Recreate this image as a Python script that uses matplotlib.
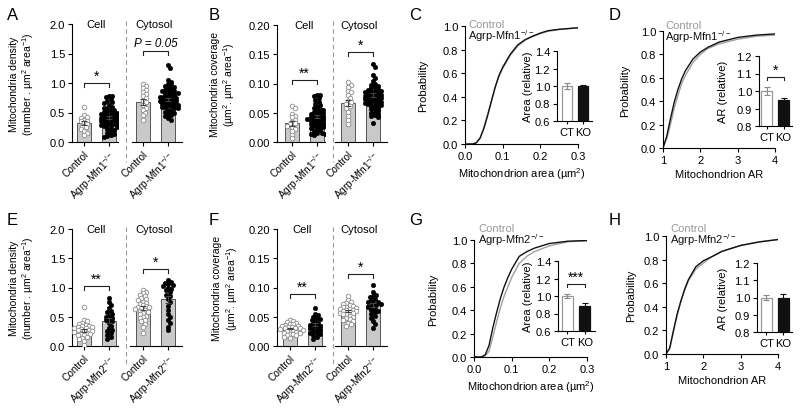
import numpy as np
import matplotlib
matplotlib.use("Agg")
import matplotlib.pyplot as plt
from matplotlib.lines import Line2D

plt.rcParams['font.family'] = ['Liberation Sans', 'DejaVu Sans']
plt.rcParams['mathtext.fontset'] = 'custom'
plt.rcParams['mathtext.rm'] = 'Liberation Sans'
plt.rcParams['mathtext.it'] = 'Liberation Sans:italic'
plt.rcParams['axes.linewidth'] = 0.8
plt.rcParams['xtick.major.width'] = 0.8
plt.rcParams['ytick.major.width'] = 0.8
plt.rcParams['xtick.major.size'] = 3
plt.rcParams['ytick.major.size'] = 3

W, H = 800, 410

# ---------------- data ----------------
groups = ['Control', 'Agrp-Mfn1$^{-/-}$']
groups2 = ['Control', 'Agrp-Mfn2$^{-/-}$']

# A: mitochondria density (Mfn1)
a_means = [0.32, 0.42, 0.68, 0.72]
a_cell_ctl = [0.60, 0.45, 0.43, 0.41, 0.38, 0.36, 0.35, 0.32, 0.30, 0.27, 0.25, 0.22, 0.18, 0.15, 0.12]
a_cell_ko = [0.78, 0.78, 0.76, 0.73, 0.70, 0.68, 0.66, 0.63, 0.60, 0.58, 0.57, 0.55, 0.54, 0.52, 0.51,
             0.50, 0.49, 0.48, 0.47, 0.46, 0.45, 0.44, 0.43, 0.42, 0.41, 0.40, 0.40, 0.39, 0.38, 0.37,
             0.36, 0.35, 0.34, 0.33, 0.32, 0.31, 0.30, 0.29, 0.28, 0.27, 0.26, 0.24, 0.22, 0.20, 0.18,
             0.16, 0.14, 0.12, 0.10, 0.09]
a_cyto_ctl = [0.98, 0.95, 0.92, 0.88, 0.85, 0.82, 0.78, 0.75, 0.70, 0.68, 0.62, 0.58, 0.55, 0.50, 0.45, 0.38]
a_cyto_ko = [1.30, 1.25, 1.05, 1.02, 0.98, 0.96, 0.95, 0.93, 0.91, 0.90, 0.88, 0.87, 0.86, 0.85, 0.84,
             0.83, 0.82, 0.80, 0.79, 0.78, 0.77, 0.76, 0.75, 0.74, 0.73, 0.72, 0.71, 0.70, 0.69, 0.68,
             0.67, 0.66, 0.65, 0.64, 0.63, 0.62, 0.61, 0.60, 0.59, 0.58, 0.57, 0.55, 0.53, 0.51, 0.50,
             0.48, 0.46, 0.44, 0.41, 0.37]

# B: mitochondria coverage (Mfn1)
b_means = [0.032, 0.044, 0.066, 0.080]
b_cell_ctl = [0.062, 0.058, 0.048, 0.045, 0.042, 0.038, 0.035, 0.032, 0.030, 0.028, 0.025, 0.022, 0.018, 0.012, 0.006]
b_cell_ko = [0.080, 0.080, 0.078, 0.075, 0.072, 0.068, 0.065, 0.063, 0.060, 0.058, 0.056, 0.055, 0.053, 0.052, 0.050,
             0.049, 0.048, 0.047, 0.046, 0.045, 0.044, 0.043, 0.042, 0.041, 0.040, 0.040, 0.039, 0.038, 0.037, 0.036,
             0.035, 0.034, 0.033, 0.032, 0.031, 0.030, 0.029, 0.028, 0.027, 0.026, 0.025, 0.024, 0.022, 0.020, 0.018,
             0.016, 0.015, 0.014, 0.013, 0.012]
b_cyto_ctl = [0.102, 0.098, 0.094, 0.088, 0.085, 0.080, 0.075, 0.070, 0.068, 0.065, 0.062, 0.058, 0.052, 0.045, 0.038, 0.030]
b_cyto_ko = [0.133, 0.128, 0.115, 0.110, 0.105, 0.100, 0.098, 0.096, 0.094, 0.092, 0.090, 0.089, 0.088, 0.087, 0.086,
             0.085, 0.084, 0.083, 0.082, 0.081, 0.080, 0.079, 0.078, 0.077, 0.076, 0.075, 0.074, 0.073, 0.072, 0.071,
             0.070, 0.069, 0.068, 0.067, 0.066, 0.065, 0.064, 0.063, 0.062, 0.060, 0.058, 0.056, 0.054, 0.052, 0.050,
             0.048, 0.046, 0.044, 0.042, 0.032]

# E: mitochondria density (Mfn2)
e_means = [0.27, 0.43, 0.65, 0.80]
e_cell_ctl = [0.66, 0.45, 0.42, 0.40, 0.38, 0.36, 0.35, 0.34, 0.33, 0.32, 0.31, 0.30, 0.29, 0.28, 0.27,
              0.26, 0.25, 0.24, 0.22, 0.21, 0.20, 0.19, 0.18, 0.16, 0.14, 0.12, 0.08, 0.02]
e_cell_ko = [0.82, 0.75, 0.70, 0.65, 0.60, 0.58, 0.55, 0.52, 0.50, 0.48, 0.46, 0.44, 0.42, 0.40, 0.35,
             0.30, 0.28, 0.25, 0.22, 0.18, 0.15, 0.12]
e_cyto_ctl = [0.96, 0.93, 0.90, 0.88, 0.85, 0.82, 0.80, 0.78, 0.76, 0.74, 0.72, 0.70, 0.68, 0.67, 0.66,
              0.65, 0.64, 0.62, 0.60, 0.58, 0.56, 0.54, 0.52, 0.50, 0.48, 0.45, 0.42, 0.38, 0.32, 0.22]
e_cyto_ko = [1.12, 1.10, 1.08, 1.06, 1.05, 1.03, 1.00, 0.98, 0.95, 0.92, 0.88, 0.85, 0.80, 0.75, 0.68,
             0.62, 0.55, 0.50, 0.45, 0.40, 0.33, 0.27]

# F: mitochondria coverage (Mfn2)
f_means = [0.030, 0.037, 0.060, 0.070]
f_cell_ctl = [0.045, 0.043, 0.041, 0.040, 0.038, 0.037, 0.036, 0.035, 0.034, 0.033, 0.032, 0.031, 0.030, 0.030,
              0.029, 0.028, 0.027, 0.026, 0.025, 0.024, 0.023, 0.022, 0.021, 0.020, 0.019, 0.018, 0.016, 0.013]
f_cell_ko = [0.065, 0.055, 0.053, 0.050, 0.048, 0.046, 0.045, 0.043, 0.040, 0.038, 0.036, 0.035, 0.034, 0.032,
             0.030, 0.028, 0.027, 0.025, 0.023, 0.022, 0.020, 0.018, 0.015, 0.012]
f_cyto_ctl = [0.085, 0.078, 0.075, 0.073, 0.072, 0.070, 0.068, 0.067, 0.066, 0.065, 0.064, 0.063, 0.062, 0.061,
              0.060, 0.059, 0.058, 0.057, 0.056, 0.055, 0.054, 0.052, 0.050, 0.048, 0.046, 0.045, 0.043, 0.040,
              0.038, 0.035]
f_cyto_ko = [0.105, 0.092, 0.088, 0.085, 0.083, 0.080, 0.078, 0.076, 0.075, 0.073, 0.072, 0.070, 0.068, 0.066,
             0.064, 0.062, 0.060, 0.058, 0.055, 0.052, 0.048, 0.043, 0.038, 0.030]

# C: cumulative mitochondrion area (Mfn1)
c_x = [0.0, 0.02, 0.03, 0.04, 0.05, 0.06, 0.07, 0.08, 0.09, 0.10, 0.12, 0.14, 0.16, 0.18, 0.20, 0.22, 0.25, 0.30]
c_ctl = [0.0, 0.0, 0.01, 0.05, 0.14, 0.25, 0.37, 0.48, 0.57, 0.64, 0.75, 0.83, 0.88, 0.91, 0.935, 0.955, 0.97, 0.985]
c_ko = [0.0, 0.0, 0.01, 0.05, 0.13, 0.24, 0.36, 0.48, 0.58, 0.65, 0.76, 0.84, 0.885, 0.915, 0.94, 0.96, 0.972, 0.985]
c_inset = [1.0, 1.0]
c_inset_err = [0.03, 0.01]

# D: cumulative aspect ratio (Mfn1)
d_x = [1.0, 1.1, 1.2, 1.3, 1.4, 1.5, 1.6, 1.8, 2.0, 2.2, 2.5, 3.0, 3.5, 4.0]
d_ctl = [0.0, 0.08, 0.2, 0.34, 0.45, 0.55, 0.62, 0.73, 0.80, 0.85, 0.89, 0.93, 0.955, 0.965]
d_ko = [0.0, 0.1, 0.25, 0.39, 0.50, 0.59, 0.66, 0.76, 0.82, 0.86, 0.905, 0.945, 0.965, 0.975]
d_inset = [1.0, 0.95]
d_inset_err = [0.022, 0.01]

# G: cumulative mitochondrion area (Mfn2)
g_x = [0.0, 0.02, 0.03, 0.04, 0.05, 0.06, 0.07, 0.08, 0.09, 0.10, 0.12, 0.14, 0.16, 0.20, 0.25, 0.30]
g_ctl = [0.0, 0.0, 0.01, 0.05, 0.17, 0.30, 0.42, 0.52, 0.60, 0.68, 0.80, 0.86, 0.90, 0.95, 0.985, 0.995]
g_ko = [0.0, 0.0, 0.02, 0.10, 0.25, 0.38, 0.50, 0.60, 0.68, 0.75, 0.86, 0.90, 0.93, 0.97, 0.99, 0.995]
g_inset = [1.0, 0.89]
g_inset_err = [0.02, 0.03]

# H: cumulative aspect ratio (Mfn2)
h_x = [1.0, 1.1, 1.2, 1.3, 1.4, 1.5, 1.6, 1.8, 2.0, 2.2, 2.5, 3.0, 3.5, 4.0]
h_ctl = [0.0, 0.05, 0.19, 0.33, 0.45, 0.54, 0.62, 0.72, 0.77, 0.82, 0.87, 0.92, 0.95, 0.97]
h_ko = [0.0, 0.05, 0.2, 0.34, 0.45, 0.55, 0.63, 0.74, 0.79, 0.82, 0.87, 0.92, 0.95, 0.97]
h_inset = [1.0, 1.0]
h_inset_err = [0.015, 0.02]

GRAY_BAR = '#c9c9c9'
EDGE = '#555555'
CTL_LINE = '#a0a0a0'
FS = 8

fig = plt.figure(figsize=(8, 4.1), dpi=100)


def add_px(l, t, r, b):
    return fig.add_axes([l / W, 1 - b / H, (r - l) / W, (b - t) / H])


def style(ax):
    for s in ['top', 'right']:
        ax.spines[s].set_visible(False)
    ax.tick_params(labelsize=FS, direction='out', pad=2)


def swarm(vals, px_y, px_x, diam=3.2):
    vals = np.asarray(vals, float)
    order = np.argsort(-vals)
    placed = []
    off = np.zeros(len(vals))
    step = diam * 0.5
    for i in order:
        y = vals[i] * px_y
        for k in range(60):
            cand = ((k + 1) // 2) * step * (1 if k % 2 else -1)
            if all((cand - px) ** 2 + (y - py) ** 2 >= diam ** 2 for px, py in placed):
                break
        placed.append((cand, y))
        off[i] = cand / px_x
    return off


def bracket(ax, x0, x1, y, d, txt, fs=10, dy=0.0, italic=False):
    ax.plot([x0, x0, x1, x1], [y - d, y, y, y - d], color='#222222', lw=0.8, clip_on=False)
    ax.text((x0 + x1) / 2, y + dy, txt, ha='center', va='bottom', fontsize=fs,
            style='italic' if italic else 'normal', clip_on=False)


def bar_panel(cell_rect, cyto_rect, cell_xl, cyto_xl, ylim, yticks, fmt, means, pts,
              ylabel, labels, sigs, sep_rect, px_y, ylab_x):
    ax1 = add_px(*cell_rect)
    ax2 = add_px(*cyto_rect)
    for j, ax in enumerate([ax1, ax2]):
        style(ax)
        m = means[2 * j:2 * j + 2]
        p = pts[2 * j:2 * j + 2]
        sem = [np.std(v) / np.sqrt(len(v)) for v in p]
        ax.bar([0, 1], m, width=0.56, color=GRAY_BAR, edgecolor=EDGE, linewidth=0.7, zorder=1)
        for k in range(2):
            off = swarm(p[k], px_y, 25)
            if k == 0:
                ax.scatter(k + off, p[k], s=11, facecolor='white', edgecolor='#8a8a8a', linewidth=0.6, zorder=3)
            else:
                ax.scatter(k + off, p[k], s=11, facecolor='black', edgecolor='black', linewidth=0.3, zorder=3)
            ax.errorbar(k, m[k], yerr=sem[k], color='#444444', capsize=2, lw=0.8, capthick=0.8, zorder=4)
        ax.set_ylim(*ylim)
        ax.set_xticks([0, 1])
        ax.set_xticklabels(labels, rotation=45, ha='right', va='top', rotation_mode='anchor', fontsize=7.2)
        ax.tick_params(axis='x', pad=2)
        ax.set_xlim(*(cell_xl if j == 0 else cyto_xl))
    ax1.set_yticks(yticks)
    ax1.set_yticklabels([fmt.format(v) for v in yticks])
    ax2.spines['left'].set_visible(False)
    ax2.set_yticks([])
    ax1.set_ylabel(ylabel, fontsize=7.5, linespacing=1.15)
    ax1.yaxis.set_label_coords(ylab_x, 0.5)
    ax1.text(0.5, ylim[1], 'Cell', ha='center', va='center', fontsize=FS)
    ax2.text(0.45, ylim[1], 'Cytosol', ha='center', va='center', fontsize=FS)
    for ax, s in zip([ax1, ax2], sigs):
        bracket(ax, 0, 1, *s)
    x, t, b = sep_rect
    fig.add_artist(Line2D([x / W, x / W], [1 - t / H, 1 - b / H], color='#999999', lw=0.8,
                          linestyle=(0, (4, 3))))
    return ax1, ax2


def cdf_panel(rect, x, ctl, ko, xlim, xticks, xfmt, xlabel, legend_xy, ko_label, ylab_x,
              inset_rect, ivals, ierr, iylim, iyticks, iylabel, iylab_x, isig):
    ax = add_px(*rect)
    style(ax)
    ax.plot(x, ctl, color=CTL_LINE, lw=1.0)
    ax.plot(x, ko, color='#111111', lw=1.0)
    ax.set_xlim(*xlim)
    ax.set_ylim(0, 1)
    ax.set_xticks(xticks)
    ax.set_xticklabels([xfmt.format(v) for v in xticks])
    ax.set_yticks([0, 0.2, 0.4, 0.6, 0.8, 1.0])
    ax.set_yticklabels(['0.0', '0.2', '0.4', '0.6', '0.8', '1.0'])
    ax.set_xlabel(xlabel, fontsize=FS, labelpad=3)
    ax.set_ylabel('Probability', fontsize=FS)
    ax.yaxis.set_label_coords(ylab_x, 0.5)
    lx, ly = legend_xy
    fig.text(lx / W, 1 - ly / H, 'Control', color='#999999', fontsize=FS, va='center')
    fig.text(lx / W, 1 - (ly + 11.5) / H, ko_label, color='#111111', fontsize=FS, va='center')

    ia = add_px(*inset_rect[:4])
    style(ia)
    ia.patch.set_alpha(0)
    ia.bar([0, 1], ivals, width=0.62, color=['white', '#111111'], edgecolor=['#999999', '#111111'],
           linewidth=0.9, zorder=1)
    ia.errorbar([0], [ivals[0]], yerr=[ierr[0]], color='#888888', capsize=2, lw=0.8, capthick=0.8)
    ia.errorbar([1], [ivals[1]], yerr=[ierr[1]], color='#111111', capsize=2, lw=0.8, capthick=0.8)
    ia.set_ylim(*iylim)
    ia.set_xlim(*inset_rect[4])
    ia.set_yticks(iyticks)
    ia.set_yticklabels(['{:.1f}'.format(v) for v in iyticks])
    ia.set_xticks([0, 1])
    ia.set_xticklabels(['CT', 'KO'], fontsize=FS)
    ia.tick_params(axis='x', length=2.5, pad=2)
    ia.set_ylabel(iylabel, fontsize=FS)
    ia.yaxis.set_label_coords(iylab_x, 0.5)
    if isig:
        bracket(ia, 0, 1, *isig)
    return ax, ia


ylab_dens = 'Mitochondria density\n(number . µm$^2$ area$^{-1}$)'
ylab_cov = 'Mitochondria coverage\n(µm$^2$. µm$^2$ area$^{-1}$)'

# A
bar_panel((72, 25, 118, 143), (132, 25, 182, 143), (-0.48, 1.36), (-0.44, 1.56), (0, 2.0),
          [0, 0.5, 1.0, 1.5, 2.0], '{:.1f}', a_means, [a_cell_ctl, a_cell_ko, a_cyto_ctl, a_cyto_ko],
          ylab_dens, groups, [(1.0, 0.07, '*'), (1.55, 0.07, 'P = 0.05', 8.5, 0.03, True)],
          (126, 22, 163), 59, -0.78)
# B
bar_panel((277, 26, 325, 143), (335, 26, 387, 143), (-0.6, 1.32), (-0.52, 1.56), (0, 0.2),
          [0, 0.05, 0.10, 0.15, 0.20], '{:.2f}', b_means, [b_cell_ctl, b_cell_ko, b_cyto_ctl, b_cyto_ko],
          ylab_cov, groups, [(0.106, 0.007, '**'), (0.154, 0.007, '*')],
          (333, 22, 163), 585, -0.83)
# E
bar_panel((72, 230, 118, 347), (130, 230, 182, 347), (-0.48, 1.36), (-0.52, 1.56), (0, 2.0),
          [0, 0.5, 1.0, 1.5, 2.0], '{:.1f}', e_means, [e_cell_ctl, e_cell_ko, e_cyto_ctl, e_cyto_ko],
          ylab_dens, groups2, [(1.03, 0.07, '**'), (1.32, 0.07, '*')],
          (126, 228, 368), 58.5, -0.78)
# F
bar_panel((277, 230, 325, 347), (335, 230, 387, 347), (-0.52, 1.4), (-0.52, 1.56), (0, 0.2),
          [0, 0.05, 0.10, 0.15, 0.20], '{:.2f}', f_means, [f_cell_ctl, f_cell_ko, f_cyto_ctl, f_cyto_ko],
          ylab_cov, groups2, [(0.089, 0.007, '**'), (0.123, 0.007, '*')],
          (333, 228, 368), 585, -0.77)

# C
cdf_panel((465, 27, 578, 145), c_x, c_ctl, c_ko, (0, 0.3), [0, 0.1, 0.2, 0.3], '{:.1f}',
          'Mitochondrion area (µm$^2$)', (468, 25), 'Agrp-Mfn1$^{-/-}$', -0.33,
          (557, 52, 592, 122, (-0.6, 1.55)), c_inset, c_inset_err, (0.6, 1.4),
          [0.6, 0.8, 1.0, 1.2, 1.4], 'Area (relative)', -0.69, None)
# D
cdf_panel((663, 32, 775, 149), d_x, d_ctl, d_ko, (1, 4), [1, 2, 3, 4], '{:d}',
          'Mitochondrion AR', (665, 26), 'Agrp-Mfn1$^{-/-}$', -0.29,
          (759, 57, 792, 127, (-0.45, 1.5)), d_inset, d_inset_err, (0.8, 1.2),
          [0.8, 0.9, 1.0, 1.1, 1.2], 'AR (relative)', -0.94, (1.08, 0.015, '*'))
# G
cdf_panel((474, 241, 587, 358), g_x, g_ctl, g_ko, (0, 0.3), [0, 0.1, 0.2, 0.3], '{:.1f}',
          'Mitochondrion area (µm$^2$)', (478, 229), 'Agrp-Mfn2$^{-/-}$', -0.32,
          (558, 262, 595, 332, (-0.55, 1.6)), g_inset, g_inset_err, (0.6, 1.4),
          [0.6, 0.8, 1.0, 1.2, 1.4], 'Area (relative)', -0.68, (1.14, 0.04, '***'))
# H
cdf_panel((666, 237, 778, 355), h_x, h_ctl, h_ko, (1, 4), [1, 2, 3, 4], '{:d}',
          'Mitochondrion AR', (670, 229), 'Agrp-Mfn2$^{-/-}$', -0.27,
          (757, 264, 792, 333, (-0.55, 1.5)), h_inset, h_inset_err, (0.8, 1.2),
          [0.8, 0.9, 1.0, 1.1, 1.2], 'AR (relative)', -0.83, None)

for letter, (x, y) in zip('ABCDEFGH', [(7, 16), (209, 16), (409, 16), (609, 16),
                                       (7, 221), (209, 221), (409, 221), (609, 221)]):
    fig.text(x / W, 1 - y / H, letter, fontsize=12, va='center', ha='left')

fig.savefig('out.png', dpi=100)
